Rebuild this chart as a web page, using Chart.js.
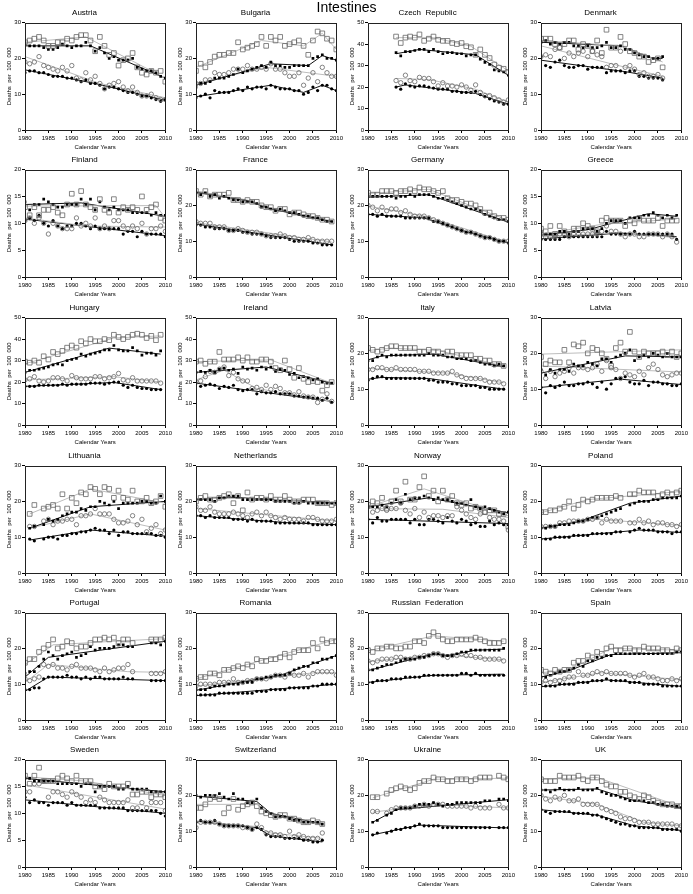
<!DOCTYPE html>
<html>
<head>
<meta charset="utf-8">
<script src="https://cdn.jsdelivr.net/npm/chart.js@4.4.1/dist/chart.umd.min.js"></script>
<style>
  body { margin: 0; background: #fff; }
  #page { position: relative; width: 693px; height: 894px; overflow: hidden; }
  #main-title { position: absolute; left: 0; width: 693px; text-align: center; top: -1px; font: 14px 'Liberation Sans', Arial, sans-serif; line-height: 16px; color: #000; z-index: 2; }
  .panel { position: absolute; }
</style>
</head>
<body>
<div id="page">
  <div id="main-title">Intestines</div>
</div>
<script>
// x axis
const firstYear = 1980;
const xTicks = [1980, 1985, 1990, 1995, 2000, 2005, 2010];
const yTicks20 = [0, 5, 10, 15, 20];
const yTicks30 = [0, 10, 20, 30];
const yTicks50 = [0, 10, 20, 30, 40, 50];

// sqO = open squares, sqF = filled squares, ciO = open circles, ciF = filled circles (values from 1980 on)
// Fit = joinpoint knots [year, value]
const austriaSqO = [24.5,25,25.5,26,25,23.5,23.5,24.5,24.5,25.5,25,26,26.5,26.5,25,22,26,23.5,21,21.5,18,19.5,20,21.5,17.5,16,15.5,16.5,16,16.5,13.5];
const austriaSqF = [24,23.5,23.5,23.5,23,22.5,22.5,23,24,23.5,23,23.5,23.5,24.5,23.5,22,23,21.5,20,20.5,19.5,19.5,19.5,20,17.5,17,16.5,16.5,16,15,14.5];
const austriaCiO = [19,18.5,19,20.5,18,17.5,17,16.5,17.5,16.5,18,14.5,14,16,14,15,13,11.5,12.5,13,13.5,12,11,12,10.5,9.5,9.5,10,9,8.5,8.5];
const austriaCiF = [16,16.5,16.5,16,16,15.5,15,15,15,14.5,14.5,14,13.5,14,13,13,12.5,11.5,12,12,11.5,11,10.5,10.5,10,9.5,9.5,9,8.5,8,8.5];
const austriaFitSqO = [[1980,24.5],[1993,26],[2010,14.5]];
const austriaFitSqF = [[1980,23.5],[1994,23.5],[2010,14.5]];
const austriaFitCiO = [[1980,20.5],[1996,13],[2010,9]];
const austriaFitCiF = [[1980,16.8],[1995,13],[2010,8.3]];

const bulgariaSqO = [16.5,18.5,17.5,19,20.5,21,21,21.5,21.5,24.5,22.5,23,23.5,24,26,23.5,26,25,26,23.5,24,24.5,25,23.5,21,25,27.5,27,25.5,25,22.5];
const bulgariaSqF = [12,13,13,13.5,14.5,14.5,14.5,15,15.5,17,16,16.5,17,17.5,18,17.5,19,18,18,17.5,17.5,18,18,18,18,20,20.5,21,20,20,19.5];
const bulgariaCiO = [13,13,14,14,16,15.5,15.5,16,17,17,17,18,17,17,17.5,17,18.5,17,17,16,15,15,16,12.5,14.5,16,13.5,17.5,16,15,15];
const bulgariaCiF = [9,9.5,10,9,11,10.5,10.5,10.5,11,11.5,11,12,11.5,12,12,11.5,12.5,12,11.5,11.5,11.5,11,11,10,10.5,12,11,12.5,12.5,11.5,11];
const bulgariaFitSqO = [[1980,17.5],[1994,25],[2003,23.5],[2007,27],[2010,22.5]];
const bulgariaFitSqF = [[1980,12.5],[1996,18.5],[2004,18],[2007,20.8],[2010,19.5]];
const bulgariaFitCiO = [[1980,13],[1995,17.5],[2010,15]];
const bulgariaFitCiF = [[1980,9.3],[1996,12.5],[2003,10.5],[2007,12.5],[2010,11]];

const czechSqO = [null,null,null,null,null,null,43.5,40.5,43,43.5,43,44.5,41.5,42.5,43.5,42,41.5,41.5,40.5,40,40.5,39,38.5,35,37.5,35,33.5,30.5,29,28.5,27];
const czechSqF = [null,null,null,null,null,null,36,34.5,36.5,36.5,37,37.5,37.5,36.5,37.5,36.5,35.5,36,36,35.5,35.5,34.5,35,35,33,31.5,30.5,28,27.5,27,25.5];
const czechCiO = [null,null,null,null,null,null,23,22,25.5,23,22.5,24.5,24,24,22.5,20.5,22,20.5,20.5,20,21,20,18.5,21,17.5,16,16,15,14,13,14];
const czechCiF = [null,null,null,null,null,null,20,19,21.5,20.5,20,20.5,20.5,20,19.5,19,19,19,18,18,17.5,17.5,17.5,18,16.5,15.5,14.5,13.5,13,12,12];
const czechFitSqO = [[1986,43],[1994,43],[2002,39],[2010,27.5]];
const czechFitSqF = [[1986,35.5],[1991,37.5],[2003,35],[2010,25.5]];
const czechFitCiO = [[1986,24],[1993,23.5],[2003,19],[2010,13]];
const czechFitCiF = [[1986,20],[1988,21],[2003,17],[2010,12]];

const denmarkSqO = [25.5,25.5,25.5,24,23,24,25,25,22.5,24,23.5,22,25,21.5,28,23,23,26,24,22,21.5,20.5,20.5,19,19.5,20,17.5];
const denmarkSqF = [24.5,25,24,24.5,24,24.5,24.5,23.5,23.5,23,23.5,23,23,23.5,24.5,23,23,23.5,22.5,22.5,21.5,21,20.5,20.5,20,20,20.5];
const denmarkCiO = [20.5,21,20.5,22.5,23,20,21.5,20.5,21.5,22,20.5,22,21,20.5,17.5,18,18,22,17.5,18,17,15.5,16,15,15,15.5,14.5];
const denmarkCiF = [20.5,18,17.5,19,19.5,18,17.5,17.5,18,18,17,17.5,17.5,17.5,16,16.5,16.5,16.5,16,16.5,16.5,15,15,14.5,14.5,14.5,14];
const denmarkFitSqO = [[1980,25],[1997,23.5],[2006,19]];
const denmarkFitSqF = [[1980,24.5],[1997,23.5],[2004,20],[2006,20]];
const denmarkFitCiO = [[1980,23.5],[1995,18.5],[2006,15]];
const denmarkFitCiF = [[1980,19.5],[1998,16.3],[2006,14.5]];

const finlandSqO = [13,11.5,13,11.5,12.5,12.5,13,12,11.5,13.5,15.5,13.5,16,13.5,13,12.5,14.5,12.5,12,14.5,12,13,12.5,13,12.5,15,12.5,13,13.5,11,10.5];
const finlandSqF = [14,12.5,13.5,13.5,14.5,14,13.5,13,13,13.5,13.5,13.5,14.5,13.5,14.5,12.5,14,13,12.5,13,12.5,12.5,12.5,12,12,12,12,11.5,12,11.5,11.5];
const finlandCiO = [10.5,11,10,11,10,8,10,9.5,9,9,9,11,9.5,10,9.5,11,9,9.5,9,10.5,10.5,9.5,9,9.5,9,10,8,9,9,9.5,8.5];
const finlandCiF = [10.5,11,10.5,11.5,10,9.5,10.5,9.5,9,9.5,9.5,10,10,9.5,9,9.5,9,9,9,9,9,8,8.5,8.5,7.5,8.5,8,8,8,8,7.5];
const finlandFitSqO = [[1980,13.2],[2008,13.3],[2010,11]];
const finlandFitSqF = [[1980,13.5],[1992,13.8],[2010,11.3]];
const finlandFitCiO = [[1980,11],[1993,9.5],[2010,9.3]];
const finlandFitCiF = [[1980,10.8],[2010,7.7]];

const franceSqO = [24,23,24,22.5,23,23,23,23.5,21.5,21.5,21,21.5,21,21,20,19.5,19.5,18.5,19,19,17.5,18,18,17.5,17,17,16.5,16,16,15.5];
const franceSqF = [23.5,23,23.5,22.5,23,22,22.5,22,21.5,21.5,21,21,21,20.5,19.5,19.5,19,18.5,19,18.5,18,18,17.5,17,17,16.5,16.5,16,15.5,15.5];
const franceCiO = [15.5,15,15,15,14,14,14,13,13,13.5,13,12.5,12.5,12.5,12,11.5,11.5,11.5,12,11.5,11,11,10.5,10.5,11,10.5,10,10,10,10];
const franceCiF = [14.5,14.5,14,14,13.5,13.5,13.5,13,13,13,12.5,12.5,12,12,12,11.5,11,11,11,11,10.5,10,10,10,10,9.5,9.5,9,9,9];
const franceFitSqO = [[1980,24],[1991,21.5],[1996,19.3],[2009,15.7]];
const franceFitSqF = [[1980,23.7],[1991,21.3],[1996,19],[2009,15.5]];
const franceFitCiO = [[1980,15.2],[2009,9.8]];
const franceFitCiF = [[1980,14.8],[2009,9]];

const germanySqO = [23.5,23,23,24,24,24,23.5,24,24,24.5,24,25,24.5,24.5,24,23.5,24,22,21.5,21.5,21,20.5,20.5,20,19,18,18,17,16.5,16.5,16];
const germanySqF = [22.5,22.5,22.5,22.5,22.5,22.5,22,22.5,22.5,23,22.5,23,23,23,22.5,22,22,21.5,21,20.5,20,19.5,19,19,18.5,17.5,17,16.5,16,16,15.5];
const germanyCiO = [20,19.5,18.5,19.5,18.5,19,19,18,18.5,17.5,17,17,17,16.5,16,15.5,15,14.5,14,13.5,13,12.5,12.5,12,11.5,11,11,10.5,10,10,10];
const germanyCiF = [17.5,17.5,17,17.5,17,17,17,17,16.5,16.5,16.5,16.5,16.5,16.5,15.5,15.5,15,14.5,14,13.5,13,12.5,12.5,12,11.5,11,11,10.5,10,10,9.5];
const germanyFitSqO = [[1980,23.3],[1993,24.5],[2010,15.8]];
const germanyFitSqF = [[1980,22.3],[1993,23],[2010,15.3]];
const germanyFitCiO = [[1980,19.8],[1992,17],[2010,9.7]];
const germanyFitCiF = [[1980,17.5],[1992,16.5],[2000,13],[2010,9.5]];

const greeceSqO = [9,8.5,9.5,8,9.5,8.5,8,9,9,10,9.5,9,8.5,10.5,11,10.5,10.5,10.5,9.5,10.5,10,11,10.5,10.5,10.5,11,9.5,10.5,10.5,10.5];
const greeceSqF = [8.5,8,8,8,8.5,8.5,8,8.5,8.5,9,9,9,8.5,9,10,10.5,10.5,10.5,10,11,11,11,11.5,11.5,12,11.5,11,11.5,11,11.5];
const greeceCiO = [8,7.5,7.5,7.5,8,8,7.5,8,8,8,8,8,8,8.5,9.5,8.5,8.5,8,7.5,8,8,7.5,7.5,8,8,8,7.5,8,7.5,6.5];
const greeceCiF = [7,7,7,7,7,7.5,7.5,7.5,7.5,7.5,7.5,7.5,7.5,7.5,8.5,8,8,8,8,8,8.5,8,8,8,8,8,8,8,8,7];
const greeceFitSqO = [[1980,8],[1993,9.8],[2009,10.8]];
const greeceFitSqF = [[1980,7.8],[1990,8.8],[2003,11.8],[2009,11.3]];
const greeceFitCiO = [[1980,7.5],[1997,8.3],[2009,7.3]];
const greeceFitCiF = [[1980,7.1],[1997,8.2],[2009,7.5]];

const hungarySqO = [29.5,29,30,29,32,30.5,34,33,34.5,36,37,36,39,38,40,39,39,40,39.5,42,41,40,41,42,42.5,42,40.5,41.5,39.5,42];
const hungarySqF = [24.5,25.5,25.5,26,26.5,27,28,28.5,28,30,30.5,31,33,32,33,33.5,34,35,35,37,35,34.5,34.5,36,34.5,32.5,33.5,33.5,32.5,34.5];
const hungaryCiO = [21,21.5,22.5,20.5,20,20.5,22,22,21.5,20.5,23,22,21.5,21.5,21.5,22.5,22.5,21.5,22,22.5,24,21,20.5,22,20.5,20.5,20.5,20.5,20.5,19.5];
const hungaryCiF = [18,18,18,18.5,18.5,18.5,18.5,18.5,19,18.5,19,19,19,19,19.5,19.5,19.5,19,19.5,20,20,18.5,17.5,18.5,17.5,17,17,16.5,16.5,16.5];
const hungaryFitSqO = [[1980,28.5],[1999,40.5],[2009,41.5]];
const hungaryFitSqF = [[1980,24.5],[1998,35.8],[2009,33]];
const hungaryFitCiO = [[1980,21],[1999,22.5],[2009,20]];
const hungaryFitCiF = [[1980,18],[1999,19.8],[2009,16.5]];

const irelandSqO = [29.5,30,28.5,29.5,29.5,34,30.5,30.5,30.5,31.5,30,31.5,29.5,29.5,30.5,30.5,29.5,26.5,25.5,30,26,22,26.5,21.5,20,20.5,20,16,18.5,20];
const irelandSqF = [24.5,25,24.5,25.5,24.5,26,26.5,25.5,26,24,27,26,26.5,25.5,27,26,27,25,26,25.5,23.5,24,22,22.5,22,21,21.5,20,19.5,19.5];
const irelandCiO = [20,20.5,22.5,25,24.5,26,27,23,24.5,21.5,20.5,20.5,17,17.5,16.5,18.5,16.5,18,17,15,15,14,15.5,13.5,13,13,10.5,12,14.5,11];
const irelandCiF = [19.5,18,18.5,19,18.5,17,18,17.5,18.5,16.5,16,16.5,16.5,14.5,15.5,15,15,15.5,14.5,14.5,14.5,13.5,13.5,13,13,12.5,12.5,11.5,12.5,10.5];
const irelandFitSqO = [[1980,29.5],[1996,30.3],[2009,19.5]];
const irelandFitSqF = [[1980,24.5],[1995,27],[2009,19.5]];
const irelandFitCiO = [[1980,21],[1986,25.5],[1993,17],[2009,11]];
const irelandFitCiF = [[1980,19.5],[2009,11]];

const italySqO = [21.5,21,20.5,21,21.5,22,22,21.5,21.5,21.5,21.5,20.5,20.5,21,20.5,20.5,20,20.5,20.5,19.5,19.5,19.5,19.5,18.5,18.5,18,18,17,17,16.5];
const italySqF = [18,18,19,19.5,19,19.5,19.5,19.5,19.5,19.5,19.5,19.5,19.5,20,19.5,19.5,19.5,19,19,18.5,18.5,18.5,18,18,17.5,17,17,16.5,17,16.5];
const italyCiO = [15.5,15.5,16,16,15.5,15.5,16,15.5,15.5,15.5,15.5,15,15,15,14.5,14.5,14.5,14.5,15,14,13.5,13,13,13,13,12.5,12,12,12,11.5];
const italyCiF = [12.5,13,13.5,13.5,13,13,13,13,13,13,13,13,13,12.5,12.5,12,12,12,11.5,11.5,11,11,11,11,10.5,10.5,10,10,10,10];
const italyFitSqO = [[1980,20.8],[1985,21.5],[1995,20.8],[2009,16.5]];
const italyFitSqF = [[1980,18.2],[1983,19.3],[1994,19.8],[2009,16.3]];
const italyFitCiO = [[1980,15.8],[1997,14.5],[2009,11.8]];
const italyFitCiF = [[1980,12.8],[1983,13.3],[1993,13],[2009,10]];

const latviaSqO = [19,17,18,17.5,17.5,21,17.5,22.5,22,23,20,21.5,21,20,18.5,16.5,21.5,23,20.5,26,20.5,19,20.5,20,20,20,20.5,19.5,20.5,19,20];
const latviaSqF = [15.5,14,15.5,14.5,15.5,15.5,15,17,16.5,16.5,17.5,17,16.5,18.5,18.5,17.5,19,19.5,20,21,18,19,19.5,19,20,19.5,19,20,19,19,19];
const latviaCiO = [15,13,15,13.5,14.5,15,16,14.5,16,16,15.5,16,17,15,18,16,15.5,13,14.5,14,13.5,15,14,16,17,15.5,14,13.5,14,14.5,14.5];
const latviaCiF = [10.5,9,11,10.5,11,12,11,11,11.5,11.5,12,11.5,10.5,12,10,11.5,13,13,13.5,12,11.5,11.5,12.5,11,12,12,11.5,11.5,11,11,11.5];
const latviaFitSqO = [[1980,19.8],[2010,21]];
const latviaFitSqF = [[1980,14.5],[1998,19.3],[2010,19]];
const latviaFitCiO = [[1980,16.5],[2010,14.8]];
const latviaFitCiF = [[1980,10.5],[1997,12.8],[2010,11.3]];

const lithuaniaSqO = [null,16.5,19,null,18,18.5,19,18,22,18,21,19.5,22.5,22,24,23.5,22,24,23.5,21,23,21,20.5,23,20,20,21,19.5,20,21.5,18.5];
const lithuaniaSqF = [null,12.5,13,null,13.5,15,14.5,15,16,16.5,17,17,18,17.5,18.5,18.5,20,19.5,19,20,18,19.5,19.5,19.5,19.5,20,20,19.5,19.5,21.5,20];
const lithuaniaCiO = [null,13,13,null,14.5,15,13.5,14.5,14.5,15,15,13.5,16,16,16.5,18,16.5,16.5,16.5,15,14,14,14.5,16,13.5,15,11.5,12.5,13.5,11,12];
const lithuaniaCiF = [null,9.5,9,null,9.5,10,10,9.5,10.5,10.5,11,11,11.5,11.5,12,12.5,12,12,11,12,10.5,11.5,11.5,11,11,11,11,11,10.5,10.5,10];
const lithuaniaFitSqO = [[1981,16.5],[1994,23.5],[2010,19.5]];
const lithuaniaFitSqF = [[1981,12.5],[1994,18.5],[2010,20]];
const lithuaniaFitCiO = [[1981,12.5],[1994,16.5],[2010,12]];
const lithuaniaFitCiF = [[1981,9.2],[1994,12],[2010,10.3]];

const netherlandsSqO = [20,21,21.5,20.5,20.5,21,21.5,22,19.5,21.5,17.5,22.5,20.5,21,21,20.5,21.5,20.5,20.5,21.5,20.5,20,20,20.5,20.5,20.5,19.5,19.5,19.5,19,19.5];
const netherlandsSqF = [20.5,20.5,20.5,20.5,20,21,21,21.5,21.5,21.5,20.5,20.5,20.5,20.5,20.5,20.5,20.5,20,20,20,20,19.5,19.5,20,19.5,19.5,19.5,19.5,19.5,19.5,19.5];
const netherlandsCiO = [18.5,17.5,17.5,18.5,17,16.5,16.5,16.5,17,16.5,16,15.5,16.5,17,16,17,16,15.5,15,15.5,15,15,15,14.5,15.5,15.5,15,14.5,14.5,14.5,15];
const netherlandsCiF = [16,16,15.5,16,15.5,15.5,15.5,15.5,15,15,15,14.5,15,14.5,14.5,14.5,14.5,14,14,14,14,14,14,14,14,13.5,13.5,13.5,13.5,13.5,13.5];
const netherlandsFitSqO = [[1980,20.8],[1995,20.8],[2010,19.3]];
const netherlandsFitSqF = [[1980,20.5],[1987,21.2],[2010,19.6]];
const netherlandsFitCiO = [[1980,18],[2010,14.5]];
const netherlandsFitCiF = [[1980,16],[2000,14],[2010,13.5]];

const norwaySqO = [19,20,19.5,21,18,20,23,20,25.5,20.5,20.5,24,27,21.5,23,20,23,20.5,21.5,19.5,19,19.5,18,18.5,18,17,17.5,17.5,16.5,16.5,13];
const norwaySqF = [18.5,18.5,18.5,19,18.5,19.5,20.5,19.5,22,20.5,21,21,21.5,21,20.5,21,20.5,20.5,20,19.5,19.5,19,20.5,18.5,18,18.5,18,17.5,17,16.5,17];
const norwayCiO = [18.5,17,17.5,18,17.5,18,18,19.5,17.5,16.5,18,15.5,17,15.5,16,16,15.5,16,16,18.5,17.5,16.5,15.5,15,16.5,17,15.5,15,15,14.5,12];
const norwayCiF = [15,14,15.5,14.5,14.5,15,15,15,15,14,15,13.5,13.5,15,15,14.5,14,15.5,14.5,14,15,14.5,13.5,14,13,13,14.5,13.5,14,13.5,13.5];
const norwayFitSqO = [[1980,18.5],[1992,23.5],[2010,16]];
const norwayFitSqF = [[1980,18.5],[1993,21],[2010,16.8]];
const norwayFitCiO = [[1980,18],[1996,17.8],[2010,15.5]];
const norwayFitCiF = [[1980,15],[2010,13.8]];

const polandSqO = [17,17,17.5,17.5,18,18.5,20,18,19,20.5,20,20.5,21,21,21,21,21.5,21,null,22,22,23,22.5,22.5,22.5,21.5,22,22.5,22,22.5,23];
const polandSqF = [12.5,12.5,13,13,13.5,13.5,13.5,14,14.5,14.5,15,15.5,15.5,16,16.5,17,17.5,18,null,19,19.5,20,20,20,20.5,20.5,21,21,21,21,21.5];
const polandCiO = [13,13,13,13,14,14,14.5,14.5,14.5,14.5,15,15,15.5,14,15,14.5,14.5,14.5,null,14,14,15,14,14.5,13.5,14,14,13.5,13.5,13,13.5];
const polandCiF = [9.5,9.5,9.5,10,10,10,10,10.5,10.5,10.5,10.5,11,11,11,11,11,11.5,11.5,null,11.5,12,12.5,12,12,12,11.5,11.5,11.5,11,11.5,11.5];
const polandFitSqO = [[1980,16.8],[1990,20.5],[2010,22.8]];
const polandFitSqF = [[1980,12.5],[1988,14.3],[1999,19.5],[2010,21.5]];
const polandFitCiO = [[1980,12.8],[1992,15],[2010,13.3]];
const polandFitCiF = [[1980,9.5],[2001,12],[2010,11.3]];

const portugalSqO = [16,17,17,19,20,21,22.5,20,20.5,22,21.5,20,20.5,20.5,21.5,22.5,22.5,23,22.5,23,21.5,22.5,22.5,21.5,null,null,null,22.5,22.5,22.5,23];
const portugalSqF = [13,13.5,13.5,15,17,19,18,17,18,18.5,19,17.5,18,18.5,20.5,19.5,20,20,20,20.5,21,21,20.5,20.5,null,null,null,21.5,21.5,21,22];
const portugalCiO = [11.5,11,11.5,12,15.5,15,15.5,14.5,14.5,14,15,15.5,14.5,14.5,14.5,14,13.5,14.5,13.5,14,14.5,14.5,15.5,13.5,null,null,null,13,13,13,13.5];
const portugalCiF = [8.5,8.5,9,9,11.5,12,12,12,12,12.5,12,12,11.5,12,11.5,12,12,11.5,11.5,11.5,11.5,12,11.5,11.5,null,null,null,11,11,11,11];
const portugalFitSqO = [[1980,15.5],[1986,21],[1999,22],[2010,22.7]];
const portugalFitSqF = [[1980,12],[1985,17.5],[2010,22]];
const portugalFitCiO = [[1980,10.5],[1985,15.5],[2002,13.5],[2010,13.3]];
const portugalFitCiF = [[1980,8],[1985,12],[2010,11]];

const romaniaSqO = [11.5,12,12,13,13,12.5,14,14,14.5,15,14.5,15.5,15,17,16.5,16.5,17,17,17.5,18.5,17.5,19,19.5,19.5,19.5,21.5,20,22.5,21.5,22,22];
const romaniaSqF = [8.5,8.5,8.5,9,9.5,9.5,9.5,10,10,10,10.5,10.5,10.5,11.5,11.5,12,12,12.5,12.5,12.5,13,14,14.5,15,15,16,16,17,17,17.5,18];
const romaniaCiO = [9.5,10,10,10,10,10.5,10.5,10.5,11.5,10.5,10.5,11,11,11.5,11.5,11.5,12,12.5,12.5,12,13,12.5,12.5,13,12,13,13.5,13.5,13.5,13.5,12.5];
const romaniaCiF = [7,7,7,7,7,7.5,7.5,7.5,7.5,7.5,7.5,7.5,7.5,8,8,8,8.5,8.5,8.5,8.5,9,9,9,9,9,9.5,9.5,10,10,10,10];
const romaniaFitSqO = [[1980,11.5],[2010,22.5]];
const romaniaFitSqF = [[1980,8.3],[1998,12.5],[2010,18]];
const romaniaFitCiO = [[1980,9.5],[2006,13.3],[2010,13.2]];
const romaniaFitCiF = [[1980,6.8],[2010,10]];

const russiaSqO = [19.5,19,20,20,20.5,20.5,20,20,20.5,20.5,22,22,21.5,23.5,24.5,23.5,22.5,22,22,22.5,22.5,22.5,22.5,23,22.5,22,21.5,21.5,21.5,22];
const russiaSqF = [14,14,14.5,15,15.5,15.5,16,16.5,17,17,17,17.5,17.5,18,18.5,18.5,18,18,18,18.5,19,19,19.5,19.5,19.5,19.5,19.5,19.5,19.5,20];
const russiaCiO = [16.5,16,16.5,17,17,17,17.5,17.5,17,17,17.5,17.5,18,18,18.5,18.5,18,17.5,18,18,18.5,18,18,17.5,17.5,17,17,17,17,16.5];
const russiaCiF = [10.5,10.5,11,11,11,11.5,11.5,11.5,12,12,12,12,12.5,12.5,12.5,12.5,12.5,12.5,12.5,12.5,13,13,12.5,13,12.5,12.5,12.5,12.5,12.5,12.5];
const russiaFitSqO = [[1980,19.3],[1994,23.5],[2009,22]];
const russiaFitSqF = [[1980,13.8],[1994,18.5],[1997,18],[2003,19.5],[2009,19.8]];
const russiaFitCiO = [[1980,16.3],[1995,18.3],[2009,16.8]];
const russiaFitCiF = [[1980,10.5],[1994,12.5],[2009,12.8]];

const spainSqO = [14,13.5,13,14,13.5,14,14,16,16.5,16.5,18,17.5,19,18.5,20,20.5,19.5,19.5,20,20,19.5,19.5,20.5,20,20,20,19.5,19.5,19,20,19.5];
const spainSqF = [12,12,12.5,13,13.5,13.5,14,14.5,15.5,15,16.5,16.5,17.5,17.5,18,18,18.5,18.5,18.5,18.5,18.5,18.5,18.5,18.5,18.5,18.5,18.5,18.5,18.5,19,19];
const spainCiO = [10.5,11,10.5,11,11,11.5,12,12,13.5,12.5,12.5,13,13.5,13,13.5,13,13,13,13,12.5,12,12.5,13,12,12,11.5,11,11,11.5,11,11.5];
const spainCiF = [9.5,9.5,9.5,9.5,10,10,10,10,10.5,10.5,10.5,11,11,11,11.5,11,11,11,11,10.5,10.5,10.5,10,10,10,10,9.5,9.5,9.5,9.5,9.5];
const spainFitSqO = [[1980,13.2],[1986,14],[1995,20],[2010,19.5]];
const spainFitSqF = [[1980,12],[1986,13.8],[1995,18.3],[2010,18.8]];
const spainFitCiO = [[1980,10.5],[1993,13.2],[2005,11.8],[2010,11.3]];
const spainFitCiF = [[1980,9.3],[1994,11.2],[2010,9.4]];

const swedenSqO = [17,15.5,17,18.5,16,16,16,16.5,17,16.5,16,17,16,16,16,15,15,14.5,15.5,15,15,15,15.5,13.5,13.5,14,14,13,13.5,13.5,13];
const swedenSqF = [16.5,16.5,16,16,16,16,16,15.5,15.5,15.5,15.5,15.5,15,15.5,15.5,14,15,15,15,15,14.5,14.5,15,14.5,14.5,14.5,14.5,14,14,14,14];
const swedenCiO = [14,14,15.5,15.5,16,13,14,14,13.5,13,14,13.5,13,12,12.5,12,13,12.5,12,12,12,12,12.5,11,11,12,11,12,12,12,10.5];
const swedenCiF = [13,12,12.5,12,12,11.5,12,12,12,11.5,12,11.5,11.5,11.5,11.5,11.5,11,11,11,11,11,11,10.5,10.5,10.5,10.5,10.5,10.5,10.5,10,9.5];
const swedenFitSqO = [[1980,16.8],[1993,16],[2010,13.3]];
const swedenFitSqF = [[1980,16.5],[2010,14]];
const swedenFitCiO = [[1980,15.3],[2010,10.8]];
const swedenFitCiF = [[1980,12.5],[2010,10]];

const switzerlandSqO = [16.5,16.5,17.5,19,19.5,19,15,16.5,19,16,17,17.5,18,17,15.5,15,14.5,14,14.5,14.5,13.5,13.5,13,12.5,12.5,13,12.5,12];
const switzerlandSqF = [20,19.5,20,20,20,20.5,19.5,19,20.5,19,19,18,18,19,16.5,15.5,15,14,14,14,13.5,13,13,12.5,12.5,12.5,12.5,12];
const switzerlandCiO = [11,12.5,12.5,12.5,12.5,12,11.5,11.5,11.5,11.5,11,11,10.5,12,11,9.5,9.5,9,9,8.5,10,8.5,9,8.5,8,8,8,9.5];
const switzerlandCiF = [12.5,13,12.5,12.5,13,12,11.5,11.5,11.5,11.5,11.5,11,10.5,11,10.5,9,8.5,8.5,8.5,8,8,8,8,7.5,7.5,7,7,7.5];
const switzerlandFitSqO = [[1980,17.5],[1993,17.5],[1996,14.5],[2007,12]];
const switzerlandFitSqF = [[1980,19.8],[1993,18.3],[1996,15],[2007,12]];
const switzerlandFitCiO = [[1980,12.7],[1993,11.3],[1996,9.5],[2007,8]];
const switzerlandFitCiF = [[1980,12.8],[1993,11],[1996,8.7],[2007,7]];

const ukraineSqO = [null,19.5,19.5,null,20.5,21.5,22,22.5,22,21.5,22,23.5,24,24,25,24.5,24.5,24,24,24.5,24.5,24.5,24,24.5,25,25,25,null,25.5,25,24.5];
const ukraineSqF = [null,12.5,13,null,14.5,15,16,16.5,16.5,16.5,17,17.5,17.5,17.5,18,17.5,17,17.5,17.5,18,18,18,18,18,18,18.5,18.5,null,19,19,18.5];
const ukraineCiO = [null,15.5,15.5,null,15,16,16.5,16.5,16.5,16.5,17,17,17.5,17,17.5,17.5,17.5,17,17,17,17,17,16.5,17,16.5,16.5,16.5,null,17.5,16.5,16.5];
const ukraineCiF = [null,9,9.5,null,9.5,10,10.5,10.5,11,11,11.5,12,11.5,11.5,11.5,11.5,11,11,11,11,11,11,11,11,11,11,11,null,11,11,11];
const ukraineFitSqO = [[1981,19.3],[1994,24.5],[2010,24.8]];
const ukraineFitSqF = [[1981,12.5],[1986,16],[2010,18.8]];
const ukraineFitCiO = [[1981,15.3],[1994,17.5],[2010,16.5]];
const ukraineFitCiF = [[1981,9],[1991,11.7],[2010,10.9]];

const ukSqO = [24.5,24,24,24,25.5,25,25,25,25.5,24.5,24,25,25,24,23,22.5,22.5,21,21,20,19.5,19,20,19.5,18.5,18,17.5,17.5,17.5,17,17];
const ukSqF = [21.5,21.5,21,21.5,22,21.5,21.5,21.5,22,21.5,21.5,21.5,22,21,20.5,20,20,19.5,19,18.5,18.5,18.5,18.5,18,18,17.5,17.5,17,17,17,16.5];
const ukCiO = [20,19,18.5,19.5,19,20,18.5,18.5,19,17.5,17.5,17.5,17.5,16.5,16,15.5,15,14,13.5,13.5,13,12.5,12.5,12.5,12,12,12,12,12,11.5,11.5];
const ukCiF = [16,15.5,15,15.5,15.5,15.5,15.5,15,15,15,15,14.5,14.5,14,13.5,13,12.5,12,12,11.5,11.5,11,11,11,11,11,10.5,10.5,10.5,10.5,10];
const ukFitSqO = [[1980,24.5],[1992,25],[2010,16.8]];
const ukFitSqF = [[1980,21.5],[1992,21.8],[2000,18.5],[2010,16.5]];
const ukFitCiO = [[1980,19.8],[1992,17.5],[2002,12.5],[2010,11.5]];
const ukFitCiF = [[1980,16],[1992,14.5],[2000,11.5],[2010,10.2]];

const panels = [
  ['Austria', yTicks30, [austriaSqO, austriaSqF, austriaCiO, austriaCiF], [austriaFitSqO, austriaFitSqF, austriaFitCiO, austriaFitCiF]],
  ['Bulgaria', yTicks30, [bulgariaSqO, bulgariaSqF, bulgariaCiO, bulgariaCiF], [bulgariaFitSqO, bulgariaFitSqF, bulgariaFitCiO, bulgariaFitCiF]],
  ['Czech  Republic', yTicks50, [czechSqO, czechSqF, czechCiO, czechCiF], [czechFitSqO, czechFitSqF, czechFitCiO, czechFitCiF]],
  ['Denmark', yTicks30, [denmarkSqO, denmarkSqF, denmarkCiO, denmarkCiF], [denmarkFitSqO, denmarkFitSqF, denmarkFitCiO, denmarkFitCiF]],
  ['Finland', yTicks20, [finlandSqO, finlandSqF, finlandCiO, finlandCiF], [finlandFitSqO, finlandFitSqF, finlandFitCiO, finlandFitCiF]],
  ['France', yTicks30, [franceSqO, franceSqF, franceCiO, franceCiF], [franceFitSqO, franceFitSqF, franceFitCiO, franceFitCiF]],
  ['Germany', yTicks30, [germanySqO, germanySqF, germanyCiO, germanyCiF], [germanyFitSqO, germanyFitSqF, germanyFitCiO, germanyFitCiF]],
  ['Greece', yTicks20, [greeceSqO, greeceSqF, greeceCiO, greeceCiF], [greeceFitSqO, greeceFitSqF, greeceFitCiO, greeceFitCiF]],
  ['Hungary', yTicks50, [hungarySqO, hungarySqF, hungaryCiO, hungaryCiF], [hungaryFitSqO, hungaryFitSqF, hungaryFitCiO, hungaryFitCiF]],
  ['Ireland', yTicks50, [irelandSqO, irelandSqF, irelandCiO, irelandCiF], [irelandFitSqO, irelandFitSqF, irelandFitCiO, irelandFitCiF]],
  ['Italy', yTicks30, [italySqO, italySqF, italyCiO, italyCiF], [italyFitSqO, italyFitSqF, italyFitCiO, italyFitCiF]],
  ['Latvia', yTicks30, [latviaSqO, latviaSqF, latviaCiO, latviaCiF], [latviaFitSqO, latviaFitSqF, latviaFitCiO, latviaFitCiF]],
  ['Lithuania', yTicks30, [lithuaniaSqO, lithuaniaSqF, lithuaniaCiO, lithuaniaCiF], [lithuaniaFitSqO, lithuaniaFitSqF, lithuaniaFitCiO, lithuaniaFitCiF]],
  ['Netherlands', yTicks30, [netherlandsSqO, netherlandsSqF, netherlandsCiO, netherlandsCiF], [netherlandsFitSqO, netherlandsFitSqF, netherlandsFitCiO, netherlandsFitCiF]],
  ['Norway', yTicks30, [norwaySqO, norwaySqF, norwayCiO, norwayCiF], [norwayFitSqO, norwayFitSqF, norwayFitCiO, norwayFitCiF]],
  ['Poland', yTicks30, [polandSqO, polandSqF, polandCiO, polandCiF], [polandFitSqO, polandFitSqF, polandFitCiO, polandFitCiF]],
  ['Portugal', yTicks30, [portugalSqO, portugalSqF, portugalCiO, portugalCiF], [portugalFitSqO, portugalFitSqF, portugalFitCiO, portugalFitCiF]],
  ['Romania', yTicks30, [romaniaSqO, romaniaSqF, romaniaCiO, romaniaCiF], [romaniaFitSqO, romaniaFitSqF, romaniaFitCiO, romaniaFitCiF]],
  ['Russian  Federation', yTicks30, [russiaSqO, russiaSqF, russiaCiO, russiaCiF], [russiaFitSqO, russiaFitSqF, russiaFitCiO, russiaFitCiF]],
  ['Spain', yTicks30, [spainSqO, spainSqF, spainCiO, spainCiF], [spainFitSqO, spainFitSqF, spainFitCiO, spainFitCiF]],
  ['Sweden', yTicks20, [swedenSqO, swedenSqF, swedenCiO, swedenCiF], [swedenFitSqO, swedenFitSqF, swedenFitCiO, swedenFitCiF]],
  ['Switzerland', yTicks30, [switzerlandSqO, switzerlandSqF, switzerlandCiO, switzerlandCiF], [switzerlandFitSqO, switzerlandFitSqF, switzerlandFitCiO, switzerlandFitCiF]],
  ['Ukraine', yTicks30, [ukraineSqO, ukraineSqF, ukraineCiO, ukraineCiF], [ukraineFitSqO, ukraineFitSqF, ukraineFitCiO, ukraineFitCiF]],
  ['UK', yTicks30, [ukSqO, ukSqF, ukCiO, ukCiF], [ukFitSqO, ukFitSqF, ukFitCiO, ukFitCiF]]
];

const FONT = "'Liberation Sans', Arial, sans-serif";
const colLeft = [0, 171, 343, 516];
const rowTop = [0, 147, 295, 443, 590, 737];

// marker look of the 4 series: open sq, filled sq, open circle, filled circle
const markerStyles = [
  { pointStyle: 'rect', pointRadius: 3.3, pointBackgroundColor: 'rgba(0,0,0,0)', pointBorderColor: '#666', pointBorderWidth: 0.8 },
  { pointStyle: 'rect', pointRadius: 1.9, pointBackgroundColor: '#000', pointBorderColor: '#000', pointBorderWidth: 0 },
  { pointStyle: 'circle', pointRadius: 2.2, pointBackgroundColor: 'rgba(0,0,0,0)', pointBorderColor: '#666', pointBorderWidth: 0.8 },
  { pointStyle: 'circle', pointRadius: 1.6, pointBackgroundColor: '#000', pointBorderColor: '#000', pointBorderWidth: 0 }
];
const fitColors = ['#bdbdbd', '#111', '#bdbdbd', '#111'];

function toPoints(arr) {
  return arr.map((v, i) => ({ x: firstYear + i, y: v })).filter(p => p.y !== null);
}

// frame round the plot area
const boxPlugin = {
  id: 'box',
  afterDraw(chart) {
    const a = chart.chartArea, ctx = chart.ctx;
    ctx.save();
    ctx.strokeStyle = '#222';
    ctx.lineWidth = 1;
    ctx.strokeRect(Math.round(a.left) + 0.5, Math.round(a.top) + 0.5, Math.round(a.right - a.left), Math.round(a.bottom - a.top));
    ctx.restore();
  }
};

const page = document.getElementById('page');

panels.forEach(function (p, i) {
  const [name, yTicks, series, fits] = p;
  const col = i % 4, row = Math.floor(i / 4);
  const canvas = document.createElement('canvas');
  canvas.className = 'panel';
  canvas.width = 174;
  canvas.height = 152;
  canvas.style.left = colLeft[col] + 'px';
  canvas.style.top = rowTop[row] + 'px';
  page.appendChild(canvas);

  const datasets = [];
  series.forEach(function (s, k) {
    datasets.push(Object.assign({ data: toPoints(s), showLine: false }, markerStyles[k]));
  });
  fits.forEach(function (f, k) {
    datasets.push({
      data: f.map(([x, y]) => ({ x: x, y: y })),
      showLine: true, pointRadius: 0, borderColor: fitColors[k], borderWidth: 1
    });
  });

  new Chart(canvas, {
    type: 'scatter',
    data: { datasets: datasets },
    options: {
      responsive: false,
      animation: false,
      devicePixelRatio: 1,
      layout: { padding: { left: 0, right: 5, top: 0, bottom: 1 } },
      plugins: {
        legend: { display: false },
        tooltip: { enabled: false },
        title: {
          display: true, text: name, color: '#000',
          font: { family: FONT, size: 8, weight: 'normal' },
          padding: { top: 8, bottom: 5 }
        }
      },
      scales: {
        x: {
          type: 'linear', min: 1980, max: 2010,
          afterBuildTicks: s => { s.ticks = xTicks.map(v => ({ value: v })); },
          afterFit: s => { s.height = 21; },
          ticks: { color: '#000', font: { family: FONT, size: 6 }, padding: 2, maxRotation: 0, autoSkip: false, callback: v => String(v) },
          grid: { drawOnChartArea: false, tickLength: 3, color: '#000' },
          border: { display: false },
          title: { display: true, text: 'Calendar Years', color: '#000', font: { family: FONT, size: 6 }, padding: { top: 2, bottom: 0 } }
        },
        y: {
          min: 0, max: yTicks[yTicks.length - 1],
          afterBuildTicks: s => { s.ticks = yTicks.map(v => ({ value: v })); },
          afterFit: s => { s.width = 25; },
          ticks: { color: '#000', font: { family: FONT, size: 6 }, padding: 1, callback: v => String(v) },
          grid: { drawOnChartArea: false, tickLength: 3, color: '#000' },
          border: { display: false },
          title: { display: true, text: 'Deaths  per  100  000', color: '#000', font: { family: FONT, size: 6 }, padding: { top: 6, bottom: 0 } }
        }
      }
    },
    plugins: [boxPlugin]
  });
});
</script>
</body>
</html>
